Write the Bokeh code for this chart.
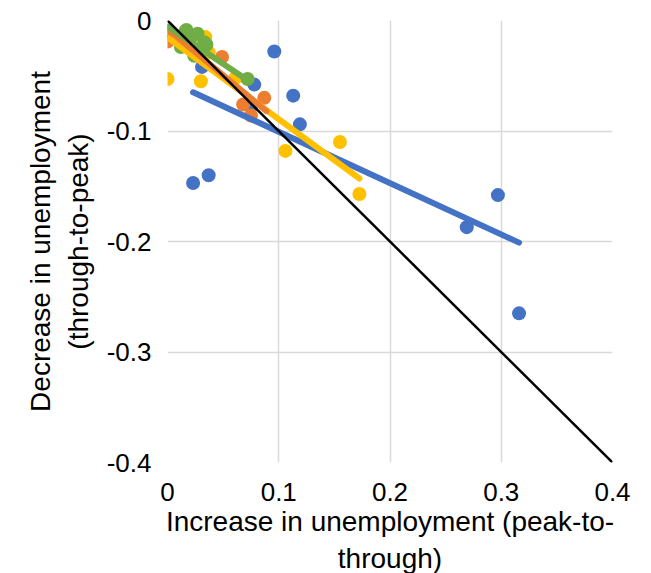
from bokeh.plotting import figure
from bokeh.models import Range1d, FixedTicker
from bokeh.embed import file_html
from bokeh.resources import INLINE

# ---- data ----
x_ticks = [0, 0.1, 0.2, 0.3, 0.4]
x_tick_labels = ["0", "0.1", "0.2", "0.3", "0.4"]
y_ticks = [0, -0.1, -0.2, -0.3, -0.4]
y_tick_labels = ["0", "-0.1", "-0.2", "-0.3", "-0.4"]

blue_x = [0.023, 0.037, 0.031, 0.075, 0.078, 0.096, 0.113, 0.119, 0.269, 0.297, 0.316]
blue_y = [-0.147, -0.140, -0.042, -0.078, -0.058, -0.028, -0.068, -0.094, -0.187, -0.158, -0.265]

orange_x = [0.0, 0.016, 0.020, 0.049, 0.068, 0.075, 0.087]
orange_y = [-0.019, -0.010, -0.017, -0.033, -0.076, -0.086, -0.070]

yellow_x = [0.0, 0.030, 0.034, 0.037, 0.061, 0.106, 0.155, 0.1725, 0.020]
yellow_y = [-0.053, -0.055, -0.015, -0.029, -0.052, -0.118, -0.110, -0.157, -0.013]

green_x = [0.001, 0.017, 0.027, 0.033, 0.012, 0.024, 0.072, 0.030, 0.020, 0.035]
green_y = [-0.009, -0.0085, -0.012, -0.0196, -0.024, -0.032, -0.053, -0.028, -0.018, -0.022]

blue_trend_x = [0.023, 0.316]
blue_trend_y = [-0.065, -0.201]
orange_trend_x = [0.0, 0.089]
orange_trend_y = [-0.008, -0.082]
yellow_trend_x = [0.001, 0.1725]
yellow_trend_y = [-0.016, -0.143]
green_trend_x = [0.001, 0.072]
green_trend_y = [-0.006, -0.054]
diag_x = [0, 0.4]
diag_y = [0, -0.4]

BLUE = "#4472C4"
ORANGE = "#ED7D31"
YELLOW = "#FFC000"
GREEN = "#70AD47"
FONT = "Liberation Sans"

p = figure(
    output_backend="svg", toolbar_location=None,
    frame_width=445, frame_height=442,
    x_range=Range1d(0, 0.4), y_range=Range1d(-0.4, 0),
    min_border_left=167, min_border_top=20, min_border_right=31, min_border_bottom=108,
)
p.outline_line_color = None
p.background_fill_color = "white"
p.border_fill_color = "white"

p.xaxis.ticker = FixedTicker(ticks=x_ticks)
p.yaxis.ticker = FixedTicker(ticks=y_ticks)
p.xaxis.major_label_overrides = {t: l for t, l in zip(x_ticks, x_tick_labels)}
p.yaxis.major_label_overrides = {t: l for t, l in zip(y_ticks, y_tick_labels)}

for ax in (p.xaxis, p.yaxis):
    ax.axis_line_color = None
    ax.major_tick_line_color = None
    ax.minor_tick_line_color = None
    ax.major_label_text_font = FONT
    ax.major_label_text_font_size = "26px"
    ax.major_label_text_color = "black"
    ax.axis_label_text_font = FONT
    ax.axis_label_text_font_size = "28px"
    ax.axis_label_text_font_style = "normal"
    ax.axis_label_text_color = "black"

p.xaxis.axis_label = "Increase in unemployment (peak-to-\nthrough)"
p.yaxis.axis_label = "Decrease in unemployment\n(through-to-peak)"
p.xaxis.major_label_standoff = 14
p.yaxis.major_label_standoff = 10
p.xaxis.axis_label_standoff = 2
p.yaxis.axis_label_standoff = 10

p.xgrid.ticker = FixedTicker(ticks=x_ticks)
p.ygrid.ticker = FixedTicker(ticks=y_ticks)
for g in (p.xgrid, p.ygrid):
    g.grid_line_color = "#D9D9D9"
    g.grid_line_width = 1.5

# markers
p.scatter(blue_x, blue_y, size=14, color=BLUE, line_color=None)
p.scatter(orange_x, orange_y, size=14, color=ORANGE, line_color=None)
p.scatter(yellow_x, yellow_y, size=14, color=YELLOW, line_color=None)
p.scatter(green_x, green_y, size=14, color=GREEN, line_color=None)

# trend lines
p.line(blue_trend_x, blue_trend_y, line_color=BLUE, line_width=6, line_cap="round")
p.line(yellow_trend_x, yellow_trend_y, line_color=YELLOW, line_width=6, line_cap="round")
p.line(orange_trend_x, orange_trend_y, line_color=ORANGE, line_width=6, line_cap="round")
p.line(green_trend_x, green_trend_y, line_color=GREEN, line_width=6, line_cap="round")

# 45-degree reference line
p.line(diag_x, diag_y, line_color="black", line_width=2.5)

open("out.html", "w").write(file_html(p, INLINE))
